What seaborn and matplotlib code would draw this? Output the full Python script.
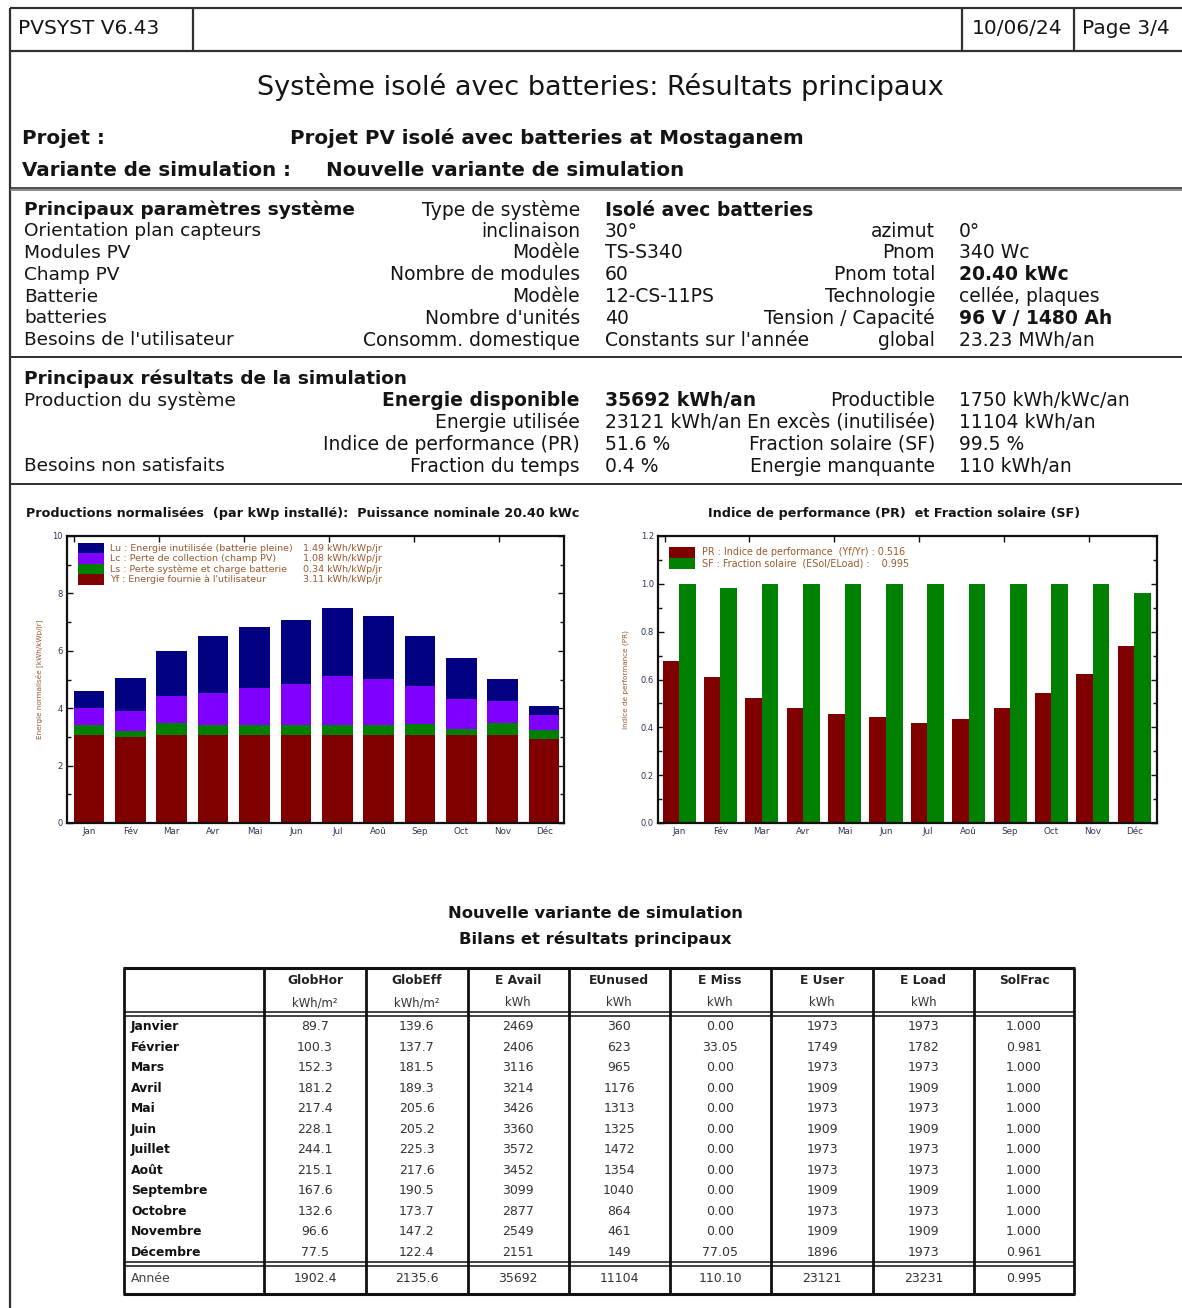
import numpy as np
import pandas as pd
import matplotlib
matplotlib.use("Agg")
import matplotlib.pyplot as plt
from matplotlib.patches import Rectangle
import seaborn as sns

# ---------------- data ----------------
months_short = ["Jan", "Fév", "Mar", "Avr", "Mai", "Jun", "Jul", "Aoû", "Sep", "Oct", "Nov", "Déc"]

# Normalised productions (kWh/kWp/jour), stacked from bottom to top
yf_user = [3.07, 3.01, 3.07, 3.07, 3.07, 3.07, 3.07, 3.07, 3.07, 3.07, 3.07, 2.94]
ls_loss = [0.34, 0.20, 0.42, 0.34, 0.35, 0.34, 0.33, 0.33, 0.37, 0.20, 0.43, 0.30]
lc_loss = [0.58, 0.68, 0.95, 1.11, 1.27, 1.43, 1.71, 1.62, 1.32, 1.04, 0.74, 0.51]
lu_unused = [0.62, 1.16, 1.56, 1.98, 2.15, 2.23, 2.39, 2.20, 1.76, 1.44, 0.79, 0.31]
legend_left_labels = ["Lu : Energie inutilisée (batterie pleine)",
                      "Lc : Perte de collection (champ PV)",
                      "Ls : Perte système et charge batterie",
                      "Yf : Energie fournie à l'utilisateur"]
legend_left_values = ["1.49 kWh/kWp/jr", "1.08 kWh/kWp/jr", "0.34 kWh/kWp/jr", "3.11 kWh/kWp/jr"]

# Performance ratio and solar fraction
pr_values = [0.677, 0.609, 0.521, 0.480, 0.457, 0.442, 0.420, 0.435, 0.480, 0.545, 0.623, 0.742]
sf_values = [1.000, 0.981, 1.000, 1.000, 1.000, 1.000, 1.000, 1.000, 1.000, 1.000, 1.000, 0.961]
legend_right_labels = ["PR : Indice de performance  (Yf/Yr) : 0.516",
                       "SF : Fraction solaire  (ESol/ELoad) :    0.995"]

# Balance table
table_months = ["Janvier", "Février", "Mars", "Avril", "Mai", "Juin", "Juillet",
                "Août", "Septembre", "Octobre", "Novembre", "Décembre"]
table_headers = ["GlobHor", "GlobEff", "E Avail", "EUnused", "E Miss", "E User", "E Load", "SolFrac"]
table_units = ["kWh/m²", "kWh/m²", "kWh", "kWh", "kWh", "kWh", "kWh", ""]
glob_hor = ["89.7", "100.3", "152.3", "181.2", "217.4", "228.1", "244.1", "215.1", "167.6", "132.6", "96.6", "77.5"]
glob_eff = ["139.6", "137.7", "181.5", "189.3", "205.6", "205.2", "225.3", "217.6", "190.5", "173.7", "147.2", "122.4"]
e_avail = ["2469", "2406", "3116", "3214", "3426", "3360", "3572", "3452", "3099", "2877", "2549", "2151"]
e_unused = ["360", "623", "965", "1176", "1313", "1325", "1472", "1354", "1040", "864", "461", "149"]
e_miss = ["0.00", "33.05", "0.00", "0.00", "0.00", "0.00", "0.00", "0.00", "0.00", "0.00", "0.00", "77.05"]
e_user = ["1973", "1749", "1973", "1909", "1973", "1909", "1973", "1973", "1909", "1973", "1909", "1896"]
e_load = ["1973", "1782", "1973", "1909", "1973", "1909", "1973", "1973", "1909", "1973", "1909", "1973"]
sol_frac = ["1.000", "0.981", "1.000", "1.000", "1.000", "1.000", "1.000", "1.000", "1.000", "1.000", "1.000", "0.961"]
year_row = ["1902.4", "2135.6", "35692", "11104", "110.10", "23121", "23231", "0.995"]

# System parameters block
param_rows = [
    ("Principaux paramètres système", "Type de système", "Isolé avec batteries", "", ""),
    ("Orientation plan capteurs", "inclinaison", "30°", "azimut", "0°"),
    ("Modules PV", "Modèle", "TS-S340", "Pnom", "340 Wc"),
    ("Champ PV", "Nombre de modules", "60", "Pnom total", "20.40 kWc"),
    ("Batterie", "Modèle", "12-CS-11PS", "Technologie", "cellée, plaques"),
    ("batteries", "Nombre d'unités", "40", "Tension / Capacité", "96 V / 1480 Ah"),
    ("Besoins de l'utilisateur", "Consomm. domestique", "Constants sur l'année", "global", "23.23 MWh/an"),
]
result_rows = [
    ("Principaux résultats de la simulation", "", "", "", ""),
    ("Production du système", "Energie disponible", "35692 kWh/an", "Productible", "1750 kWh/kWc/an"),
    ("", "Energie utilisée", "23121 kWh/an", "En excès (inutilisée)", "11104 kWh/an"),
    ("", "Indice de performance (PR)", "51.6 %", "Fraction solaire (SF)", "99.5 %"),
    ("Besoins non satisfaits", "Fraction du temps", "0.4 %", "Energie manquante", "110 kWh/an"),
]

# ---------------- style ----------------
sns.set_theme(style="white")
plt.rcParams["font.family"] = ["DejaVu Sans"]

W, H = 1182, 1308
fig = plt.figure(figsize=(W / 100, H / 100), dpi=100)
fig.patch.set_facecolor("white")

page = fig.add_axes([0, 0, 1, 1])
page.set_xlim(0, W)
page.set_ylim(H, 0)
page.axis("off")

TXT = "#141414"


def T(x, y, s, size=13.5, weight="normal", ha="left", color=TXT):
    page.text(x, y, s, fontsize=size, fontweight=weight, ha=ha, va="center", color=color)


def L(x0, x1, y0, y1, lw=1.4, color="#303030"):
    page.plot([x0, x1], [y0, y1], color=color, lw=lw, solid_capstyle="butt")


# page frame
L(9.5, W, 7.5, 7.5, lw=1.6)
L(9.5, 9.5, 7.5, H, lw=1.6)
for xs in (192.5, 962, 1074):
    L(xs, xs, 7.5, 50.5, lw=1.6)
L(9.5, W, 50.5, 50.5, lw=1.6)
L(9.5, W, 187.5, 187.5, lw=1.2)
L(9.5, W, 190.0, 190.0, lw=1.2, color="#777777")
L(9.5, W, 357, 357, lw=1.4)
L(9.5, W, 484, 484, lw=1.4)

# header
T(18, 28, "PVSYST V6.43", size=14.5)
T(1017, 28, "10/06/24", size=14.5, ha="center")
T(1082, 28, "Page 3/4", size=14.5)
T(600, 87, "Système isolé avec batteries: Résultats principaux", size=19.5, ha="center")
T(22, 138, "Projet :", size=14.3, weight="bold")
T(290, 138, "Projet PV isolé avec batteries at Mostaganem", size=14.3, weight="bold")
T(22, 171, "Variante de simulation :", size=14.3, weight="bold")
T(326, 171, "Nouvelle variante de simulation", size=14.3, weight="bold")

# parameters block
bold_values = {"Isolé avec batteries", "20.40 kWc", "96 V / 1480 Ah", "35692 kWh/an"}
row_y = [210, 231.5, 253, 274.5, 296.5, 318, 340]
for i, (a, b, c, d, e) in enumerate(param_rows):
    y = row_y[i]
    T(24, y, a, size=13.3, weight="bold" if i == 0 else "normal")
    T(580, y, b, size=13.5, ha="right")
    T(605, y, c, size=13.5, weight="bold" if c in bold_values else "normal")
    T(935, y, d, size=13.5, ha="right")
    T(959, y, e, size=13.5, weight="bold" if e in bold_values else "normal")

res_y = [379, 401, 422.5, 444, 466]
for i, (a, b, c, d, e) in enumerate(result_rows):
    y = res_y[i]
    T(24, y, a, size=13.3, weight="bold" if i == 0 else "normal")
    T(580, y, b, size=13.5, ha="right", weight="bold" if b == "Energie disponible" else "normal")
    T(605, y, c, size=13.5, weight="bold" if c in bold_values else "normal")
    T(935, y, d, size=13.5, ha="right")
    T(959, y, e, size=13.5)

# ---------------- chart styling helpers ----------------
TICKC = "#2e3656"
LEGC = "#9a5a2e"


def style_axes(ax):
    for sp in ax.spines.values():
        sp.set_visible(True)
        sp.set_color("#111111")
        sp.set_linewidth(1.6)
    ax.set_facecolor("white")
    ax.grid(False)
    ax.set_xlabel("")
    ax.tick_params(axis="y", which="both", direction="in", left=True, right=True,
                   labelsize=6, labelcolor=TICKC, color="#111111", width=1.0, pad=3)
    ax.tick_params(axis="y", which="major", length=4)
    ax.tick_params(axis="y", which="minor", length=3)
    ax.tick_params(axis="x", which="major", bottom=False, top=False, length=0,
                   labelsize=6.3, labelcolor=TICKC, pad=3)
    ax.tick_params(axis="x", which="minor", bottom=False, top=True, direction="in",
                   length=4, width=1.0, color="#111111")
    ax.set_xticks(np.arange(-0.35, 11.6, 2.05), minor=True)


# ---------------- left chart: normalised productions ----------------
axL = fig.add_axes([67 / W, 1 - 823 / H, 497 / W, 287 / H])
cum_ls = np.array(yf_user) + np.array(ls_loss)
cum_lc = cum_ls + np.array(lc_loss)
cum_lu = cum_lc + np.array(lu_unused)
layers = [(cum_lu, "#000080"), (cum_lc, "#8000ff"), (cum_ls, "#008000"), (np.array(yf_user), "#800000")]
for vals, col in layers:
    sns.barplot(x=months_short, y=list(vals), color=col, width=0.74, saturation=1,
                errorbar=None, linewidth=0, ax=axL)
axL.set_xlim(-0.53, 11.48)
axL.set_ylim(0, 10)
axL.set_yticks(np.arange(0, 11, 2))
axL.set_yticks(np.arange(1, 10, 2), minor=True)
axL.set_yticklabels([f"{v:d}" for v in range(0, 11, 2)])
style_axes(axL)
axL.set_ylabel("Energie normalisée [kWh/kWp/jr]", fontsize=5.2, color=LEGC, labelpad=7)

legend_colors_left = ["#000080", "#8000ff", "#008000", "#800000"]
sw_top, sw_h = 0.976, 0.0366
for i, (lab, val, col) in enumerate(zip(legend_left_labels, legend_left_values, legend_colors_left)):
    y0 = sw_top - (i + 1) * sw_h
    axL.add_patch(Rectangle((0.022, y0), 0.053, sw_h, transform=axL.transAxes,
                            facecolor=col, edgecolor="none", zorder=5))
    axL.text(0.087, y0 + sw_h / 2, lab, transform=axL.transAxes, fontsize=6.8,
             color=LEGC, va="center", ha="left", zorder=6)
    axL.text(0.475, y0 + sw_h / 2, val, transform=axL.transAxes, fontsize=6.8,
             color=LEGC, va="center", ha="left", zorder=6)

T(303, 514, "Productions normalisées  (par kWp installé):  Puissance nominale 20.40 kWc",
  size=9.2, weight="bold", ha="center")

# ---------------- right chart: PR and SF ----------------
axR = fig.add_axes([658 / W, 1 - 823 / H, 499 / W, 287 / H])
df_r = pd.DataFrame({
    "mois": months_short * 2,
    "valeur": pr_values + sf_values,
    "serie": ["PR"] * 12 + ["SF"] * 12,
})
sns.barplot(data=df_r, x="mois", y="valeur", hue="serie", order=months_short,
            hue_order=["PR", "SF"], palette={"PR": "#800000", "SF": "#008000"},
            width=0.8, dodge=True, saturation=1, errorbar=None, linewidth=0,
            legend=False, ax=axR)
axR.set_xlim(-0.51, 11.55)
axR.set_ylim(0, 1.2)
axR.set_yticks(np.arange(0, 1.21, 0.2))
axR.set_yticks(np.arange(0.1, 1.2, 0.2), minor=True)
axR.set_yticklabels([f"{v:.1f}" for v in np.arange(0, 1.21, 0.2)])
style_axes(axR)
axR.set_ylabel("Indice de performance (PR)", fontsize=5.2, color=LEGC, labelpad=8)

sw_top_r, sw_h_r = 0.963, 0.0385
for i, (lab, col) in enumerate(zip(legend_right_labels, ["#800000", "#008000"])):
    y0 = sw_top_r - (i + 1) * sw_h_r
    axR.add_patch(Rectangle((0.022, y0), 0.052, sw_h_r, transform=axR.transAxes,
                            facecolor=col, edgecolor="none", zorder=5))
    axR.text(0.088, y0 + sw_h_r / 2, lab, transform=axR.transAxes, fontsize=6.9,
             color=LEGC, va="center", ha="left", zorder=6)

T(894, 514, "Indice de performance (PR)  et Fraction solaire (SF)", size=9.2, weight="bold", ha="center")

# ---------------- balance table ----------------
T(595, 913, "Nouvelle variante de simulation", size=11.8, weight="bold", ha="center")
T(595, 939, "Bilans et résultats principaux", size=11.8, weight="bold", ha="center")

col_edges = [124, 264, 366, 467.5, 568.5, 669.5, 771, 873, 974, 1074]
t_top, t_hsep, t_fsep, t_bot = 968, 1014, 1264, 1294
for xe in col_edges:
    L(xe, xe, t_top, t_bot, lw=2.0, color="#111111")
L(col_edges[0] - 1, col_edges[-1] + 1, t_top, t_top, lw=2.2, color="#111111")
L(col_edges[0] - 1, col_edges[-1] + 1, t_bot, t_bot, lw=2.2, color="#111111")
for yy in (t_hsep - 2, t_hsep + 2, t_fsep - 2, t_fsep + 2):
    L(col_edges[0], col_edges[-1], yy, yy, lw=1.1, color="#111111")

centers = [(col_edges[i] + col_edges[i + 1]) / 2 for i in range(1, len(col_edges) - 1)]
for cx, hd, un in zip(centers, table_headers, table_units):
    T(cx, 980, hd, size=8.8, weight="bold", ha="center", color="#222222")
    if un:
        T(cx, 1003, un, size=8.4, ha="center", color="#333333")

columns = [glob_hor, glob_eff, e_avail, e_unused, e_miss, e_user, e_load, sol_frac]
row0, drow = 1026.7, 20.5
for i, m in enumerate(table_months):
    y = row0 + i * drow
    T(131, y, m, size=8.9, weight="bold", color="#111111")
    for cx, col in zip(centers, columns):
        T(cx, y, col[i], size=9.0, ha="center", color="#333333")
T(131, 1279, "Année", size=9.0, color="#444444")
for cx, v in zip(centers, year_row):
    T(cx, 1279, v, size=9.0, ha="center", color="#333333")

fig.savefig("out.png", dpi=100, facecolor="white")
